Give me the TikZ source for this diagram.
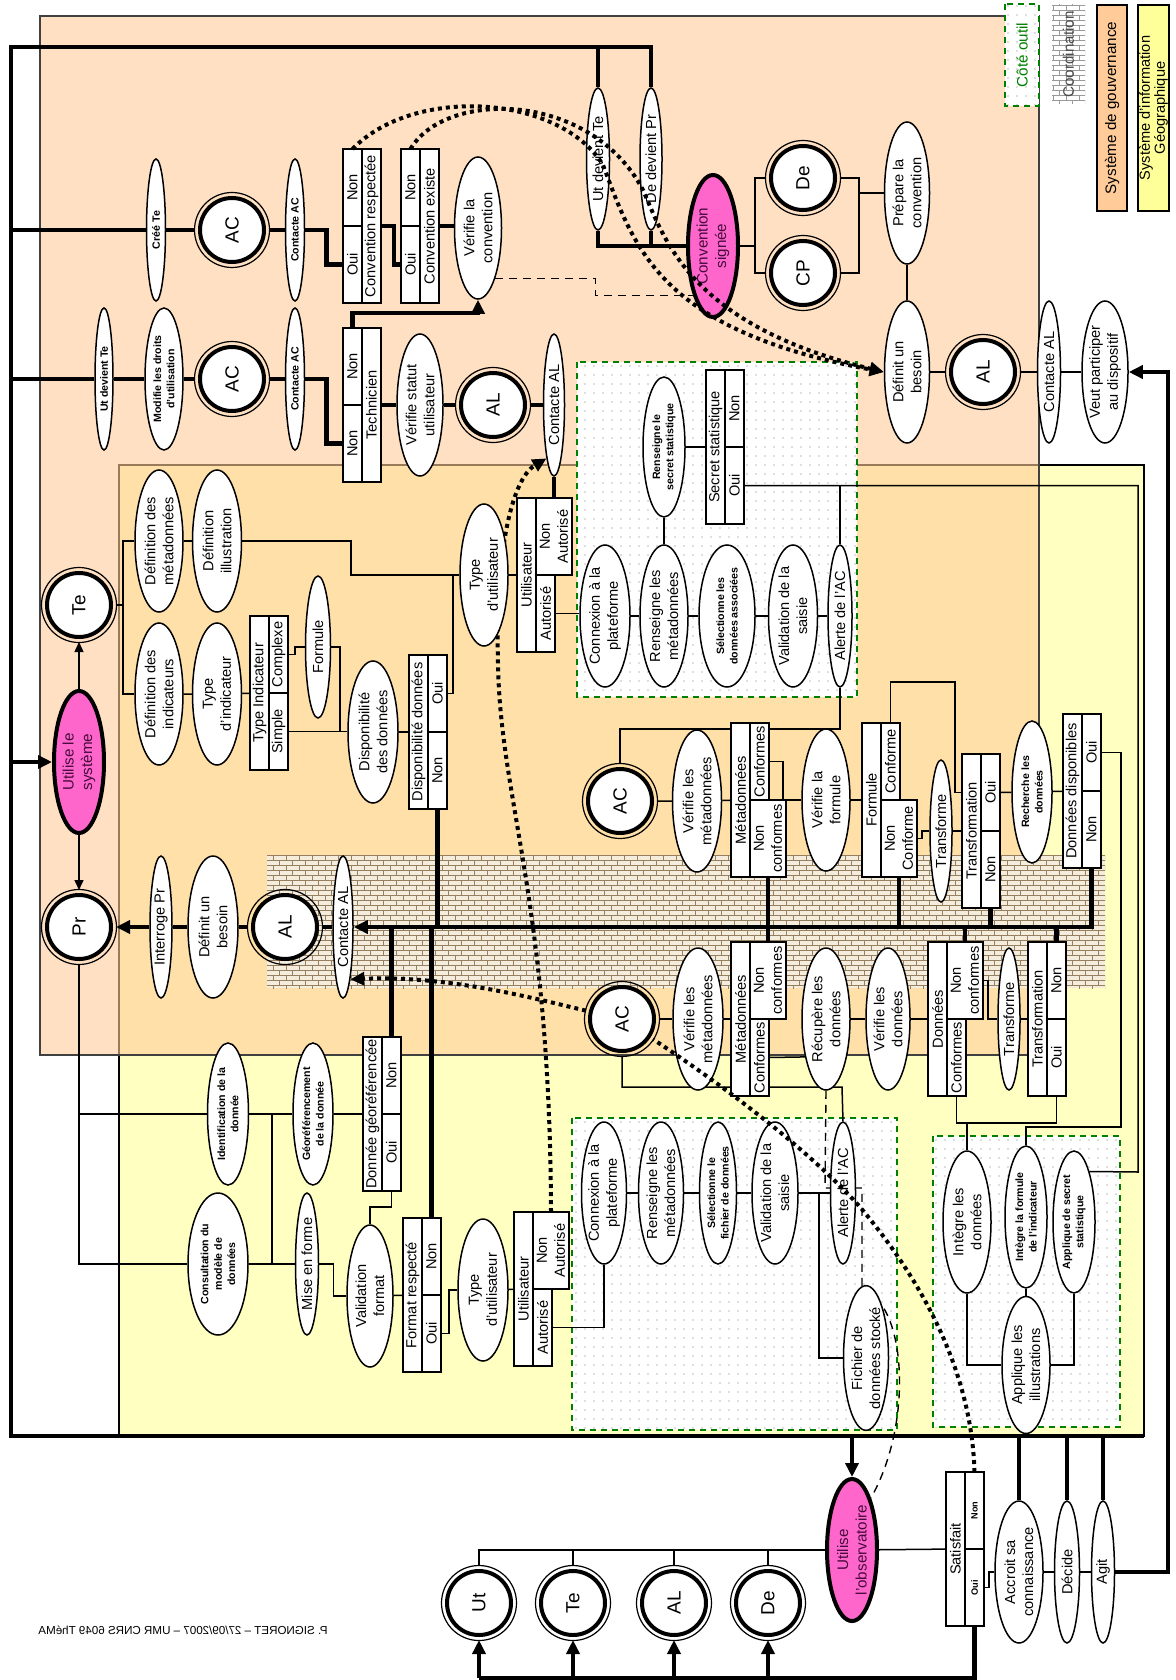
\documentclass[tikz,border=0pt]{standalone}
\usepackage{fontspec}
\setmainfont{Liberation Sans}
\usetikzlibrary{arrows.meta, shapes.geometric, patterns, patterns.meta}
\definecolor{sig}{RGB}{255,255,194}
\definecolor{gouvkey}{RGB}{255,204,153}
\definecolor{sigkey}{RGB}{255,255,153}
\definecolor{usepink}{RGB}{255,102,204}
\definecolor{usetext}{RGB}{70,10,60}
\definecolor{outil}{RGB}{0,128,0}
\definecolor{brickbg}{RGB}{244,236,220}
\definecolor{brickln}{RGB}{150,128,96}
\newcommand\fsA{\fontsize{7.3}{9}\selectfont}
\newcommand\fsB{\fontsize{5.3}{6.7}\selectfont\bfseries}
\newcommand\fsC{\fontsize{9.5}{11}\selectfont}
\newcommand\fsD{\fontsize{4.6}{5.5}\selectfont\bfseries}
\pgfdeclarelayer{regions}
\pgfdeclarelayer{edges}
\pgfdeclarelayer{over}
\pgfsetlayers{regions,edges,main,over}
\tikzdeclarepattern{
  name=smallbricks,
  type=uncolored,
  bottom left={(-0.2pt,-0.2pt)},
  top right={(6.7pt,5.2pt)},
  tile size={(6.5pt,5pt)},
  code={
    \draw[line width=0.45pt] (0pt,0pt) -- (6.5pt,0pt) (0pt,2.5pt) -- (6.5pt,2.5pt)
      (0pt,0pt) -- (0pt,2.5pt) (3.25pt,2.5pt) -- (3.25pt,5pt);
  }
}
\tikzset{
  % --- activities (ellipses, text running upwards) ---
  act/.style={ellipse, draw, fill=white, rotate=90, inner sep=0pt, line width=0.75pt,
    minimum width=71pt, minimum height=24pt, align=center, font=\fsA},
  acts/.style={act, font=\fsB},
  keyact/.style={act, fill=usepink, line width=2pt, text=usetext,
    font=\fontsize{7.6}{9.2}\selectfont, minimum width=71pt, minimum height=25pt},
  % --- actors (double ring) ---
  actor/.style={circle, draw, fill=white, rotate=90, line width=2pt, inner sep=0pt,
    minimum size=32pt, outer sep=2.5pt, font=\fsC,
    label={[circle, draw, fill=none, line width=0.6pt, minimum size=37.5pt,
      anchor=center]center:{}}},
  % --- decision tables ---
  cell/.style={rectangle, draw, fill=white, rotate=90, inner sep=0pt, outer sep=0pt,
    line width=0.9pt, minimum height=9.5pt, align=center, font=\fsA},
  hdr/.style={cell, minimum width=77pt},
  opt/.style={cell, minimum width=38.5pt},
  wide/.style={minimum height=18pt},
  % --- legend ---
  keybox/.style={rectangle, rotate=90, inner sep=0pt, align=center,
    font=\fontsize{7.6}{8}\selectfont},
  % --- connectors ---
  link/.style={line width=0.75pt},
  flow/.style={line width=2.4pt},
  arrowed/.style={-{Triangle[length=7pt, width=6.5pt]}},
  smallarrowed/.style={-{Triangle[length=5pt, width=4.5pt]}},
  dotline/.style={line width=2pt, dash pattern=on 2pt off 2pt},
  dotflow/.style={dotline, -{Triangle[length=7pt, width=6.5pt]}},
  dashlink/.style={line width=0.7pt, dash pattern=on 4pt off 3pt},
  % --- zones ---
  outilbox/.style={draw=outil, line width=1.2pt, dash pattern=on 3pt off 2.5pt,
    preaction={fill=white}, pattern={Dots[distance=4.5pt, radius=0.35pt]},
    pattern color=black!55},
  coordzone/.style={preaction={fill=brickbg}, pattern=smallbricks, pattern color=brickln},
}

\begin{document}
\begin{tikzpicture}[x=0.5pt, y=-0.5pt]
  \useasboundingbox (0,0) rectangle (1175,1680);
  % ---- Loop corners and bus levels ----
  \coordinate (loopTL) at (11,47);
  \coordinate (loopBL) at (11,1436);
  \coordinate (loopBR) at (1144,1436);
  \coordinate (loopR) at (1168,372);
  \coordinate (busY) at (0,927);
  \coordinate (botY) at (0,1678);

  % ---- Legend ----
  \node[keybox, outilbox, text=outil, minimum width=51pt, minimum height=17pt] (keyOutil) at (1022,55) {Côté outil};
  \node[keybox, preaction={fill=white}, pattern=smallbricks, pattern color=black!40, text=black!70,
    minimum width=49.5pt, minimum height=16.5pt] (keyCoord) at (1068.5,54.5) {Coordination};
  \node[keybox, draw, line width=1pt, fill=gouvkey, minimum width=103pt, minimum height=15pt] (keyGouv) at (1112,108) {Système de gouvernance};
  \node[keybox, draw, line width=1pt, fill=sigkey, minimum width=103pt, minimum height=15.5pt,
    font=\fontsize{7.3}{7.5}\selectfont] (keySig) at (1153.5,108) {Système d'information\\Géographique};

  % ---- Top band: conventions ----
  \node[acts, minimum height=9.5pt] (crTe) at (156,230) {Créé Te};
  \node[actor] (acA) at (232,230) {AC};
  \node[acts, minimum height=9.5pt] (ctAC1) at (295,230) {Contacte AC};
  \node[opt] (crNon) at (352.5,187.5) {Non};
  \node[opt] (crOui) at (352.5,264.5) {Oui};
  \node[hdr] (crHead) at (371.5,226) {Convention respectée};
  \node[opt] (ceNon) at (410.5,187.5) {Non};
  \node[opt] (ceOui) at (410.5,264.5) {Oui};
  \node[hdr] (ceHead) at (429.5,226) {Convention existe};
  \node[act, minimum height=23.5pt] (verConv) at (478,228) {Vérifie la\\convention};
  \node[act, minimum height=11.5pt] (utTe2) at (598,159) {Ut devient Te};
  \node[act, minimum height=11pt] (dePr) at (651,159) {De devient Pr};
  \node[keyact] (convSig) at (713,246) {Convention\\signée};
  \node[actor] (deA) at (803,178) {De};
  \node[actor] (cpA) at (803,273) {CP};
  \node[act, minimum height=22.5pt] (prepConv) at (907,193) {Prépare la\\convention};
  \node[act, minimum height=22.5pt] (defBes1) at (907,372) {Définit un\\besoin};
  \node[actor] (alA) at (983,372) {AL};
  \node[act, minimum height=11.5pt] (ctAL1) at (1049,372) {Contacte AL};
  \node[act, minimum height=23pt] (veut) at (1105,372) {Veut participer\\au dispositif};

  % ---- Top band: user rights ----
  \node[acts, minimum height=9pt] (utTe1) at (104,379) {Ut devient Te};
  \node[acts, minimum height=19pt] (modDr) at (164,379) {Modifie les droits\\d'utilisation};
  \node[actor] (acB) at (232,379) {AC};
  \node[acts, minimum height=9.5pt] (ctAC2) at (295,379) {Contacte AC};
  \node[opt] (teNon1) at (352.5,366.5) {Non};
  \node[opt] (teNon2) at (352.5,443.5) {Non};
  \node[hdr] (teHead) at (371.5,405) {Technicien};
  \node[act, minimum height=23pt] (verStat) at (420,405) {Vérifie statut\\utilisateur};
  \node[actor] (alB) at (493,405) {AL};
  \node[act, minimum height=10.5pt] (ctAL2) at (554,405) {Contacte AL};

  % ---- Tool side, upper box ----
  \node[acts, minimum width=70pt, minimum height=21pt] (rsSec) at (664,447) {Renseigne le\\secret statistique};
  \node[hdr] (ssHead) at (715.5,447) {Secret statistique};
  \node[opt] (ssNon) at (734.5,408.5) {Non};
  \node[opt] (ssOui) at (734.5,485.5) {Oui};
  \node[act, minimum height=25pt] (cnx1) at (605,616) {Connexion à la\\plateforme};
  \node[act] (rsMeta1) at (664,616) {Renseigne les\\métadonnées};
  \node[acts, minimum height=28pt] (selDon) at (727,616) {Sélectionne les\\données associées};
  \node[act, minimum height=24.5pt] (valSai1) at (793,616) {Validation de la\\saisie};
  \node[act, minimum height=12pt] (alert1) at (840,616) {Alerte de l'AC};

  % ---- Te: definitions ----
  \node[actor] (teA) at (79,605) {Te};
  \node[keyact] (useSys) at (79,762) {Utilise le\\système};
  \node[actor] (prA) at (79,927) {Pr};
  \node[act] (defMeta) at (159,541) {Définition des\\métadonnées};
  \node[act, minimum height=24.5pt] (defIll) at (217,541) {Définition\\illustration};
  \node[act] (defInd) at (159,694) {Définition des\\indicateurs};
  \node[act, minimum height=24.5pt] (typInd) at (217,694) {Type\\d'indicateur};
  \node[hdr] (tiHead) at (259.5,693) {Type Indicateur};
  \node[opt] (tiCpx) at (278.5,654.5) {Complexe};
  \node[opt] (tiSim) at (278.5,731.5) {Simple};
  \node[act, minimum height=12.5pt] (formu) at (318,647) {Formule};
  \node[act, minimum height=25pt] (dispo) at (373,732) {Disponibilité\\des données};
  \node[hdr] (ddHead) at (418.5,732) {Disponibilité données};
  \node[opt] (ddOui) at (437.5,693.5) {Oui};
  \node[opt] (ddNon) at (437.5,770.5) {Non};
  \node[act] (typUt1) at (484,575) {Type\\d'utilisateur};
  \node[hdr] (uaHead1) at (526.5,575) {Utilisateur};
  \node[opt, wide] (uaNon1) at (554,536.5) {Non\\Autorisé};
  \node[opt] (uaAut1) at (545.5,613.5) {Autorisé};

  % ---- Coordination row ----
  \node[act, minimum height=11pt] (intPr) at (161,927) {Interroge Pr};
  \node[act, minimum height=25pt] (defBes2) at (213,927) {Définit un\\besoin};
  \node[actor] (alC) at (285,927) {AL};
  \node[act, minimum height=10pt] (ctAL3) at (343,927) {Contacte AL};

  % ---- Metadata and formula checks ----
  \node[actor] (acC) at (620,801) {AC};
  \node[act, minimum height=24.5pt] (verMeta1) at (697,801) {Vérifie les\\métadonnées};
  \node[hdr] (mdHead1) at (740.5,800) {Métadonnées};
  \node[opt] (mdCnf1) at (759.5,761.5) {Conformes};
  \node[opt, wide] (mdNcf1) at (768,838.5) {Non\\conformes};
  \node[act] (verForm) at (826,800) {Vérifie la\\formule};
  \node[hdr] (fbHead) at (871.5,800) {Formule};
  \node[opt] (fbCnf) at (890.5,761.5) {Conforme};
  \node[opt, wide] (fbNcf) at (899,838.5) {Non\\Conforme};
  \node[act, minimum height=11pt] (transf1) at (941,831) {Transforme};
  \node[hdr] (trHead1) at (971.5,831) {Transformation};
  \node[opt] (trOui1) at (990.5,792.5) {Oui};
  \node[opt] (trNon1) at (990.5,869.5) {Non};
  \node[acts, minimum height=20pt] (rechDon) at (1032,792) {Recherche les\\données};
  \node[hdr] (dispHead) at (1072.5,791) {Données disponibles};
  \node[opt] (dispOui) at (1091.5,752.5) {Oui};
  \node[opt] (dispNon) at (1091.5,829.5) {Non};

  % ---- Data preparation (GIS) ----
  \node[acts, minimum height=20.5pt] (idDon) at (228,1114) {Identification de la\\donnée};
  \node[acts, minimum height=20pt] (geoDon) at (313,1114) {Géoréférencement\\de la donnée};
  \node[hdr] (dgHead) at (372.5,1114) {Donnée géoréférencée};
  \node[opt] (dgNon) at (391.5,1075.5) {Non};
  \node[opt] (dgOui) at (391.5,1152.5) {Oui};
  \node[acts, minimum height=30pt] (consMod) at (218,1264) {Consultation du\\modèle de\\données};
  \node[act, minimum height=11.5pt] (miseF) at (307,1264) {Mise en forme};
  \node[act, minimum height=23pt] (valFmt) at (370,1296) {Validation\\format};
  \node[hdr] (frHead) at (412.5,1295) {Format respecté};
  \node[opt] (frNon) at (431.5,1256.5) {Non};
  \node[opt] (frOui) at (431.5,1333.5) {Oui};
  \node[act, minimum height=25pt] (typUt2) at (483,1290) {Type\\d'utilisateur};
  \node[hdr] (uaHead2) at (523.5,1289) {Utilisateur};
  \node[opt, wide] (uaNon2) at (551,1250.5) {Non\\Autorisé};
  \node[opt] (uaAut2) at (542.5,1327.5) {Autorisé};

  % ---- Data checks ----
  \node[actor] (acD) at (622,1019) {AC};
  \node[act, minimum height=25pt] (verMeta2) at (698,1019) {Vérifie les\\métadonnées};
  \node[hdr] (mdHead2) at (740.5,1019) {Métadonnées};
  \node[opt, wide] (mdNcf2) at (768,980.5) {Non\\conformes};
  \node[opt] (mdCnf2) at (759.5,1057.5) {Conformes};
  \node[act] (recDon) at (826,1019) {Récupère les\\données};
  \node[act, minimum height=22pt] (verDon) at (888,1019) {Vérifie les\\données};
  \node[hdr] (dnHead) at (937.5,1019) {Données};
  \node[opt, wide] (dnNcf) at (965,980.5) {Non\\conformes};
  \node[opt] (dnCnf) at (956.5,1057.5) {Conformes};
  \node[act, minimum height=11pt] (transf2) at (1009,1019) {Transforme};
  \node[hdr] (trHead2) at (1037.5,1019) {Transformation};
  \node[opt] (trNon2) at (1056.5,980.5) {Non};
  \node[opt] (trOui2) at (1056.5,1057.5) {Oui};

  % ---- Tool side, lower boxes ----
  \node[act, minimum height=22.5pt] (cnx2) at (604,1193) {Connexion à la\\plateforme};
  \node[act, minimum height=22.5pt] (rsMeta2) at (661,1193) {Renseigne les\\métadonnées};
  \node[acts, minimum height=18.5pt] (selFic) at (718,1193) {Sélectionne le\\fichier de données};
  \node[act, minimum height=23pt] (valSai2) at (775,1193) {Validation de la\\saisie};
  \node[act, minimum height=12.5pt] (alert2) at (843,1193) {Alerte de l'AC};
  \node[act, minimum height=22.5pt] (fichSt) at (866,1358) {Fichier de\\données stocké};
  \node[act] (intDon) at (967,1222) {Intègre les\\données};
  \node[acts, minimum height=21pt] (intForm) at (1026,1217) {Intègre la formule\\de l'indicateur};
  \node[acts, minimum height=21pt] (appSec) at (1074,1222) {Applique de secret\\statistique};
  \node[act, minimum width=68.5pt] (appIll) at (1026,1365) {Applique les\\illustrations};

  % ---- Use of the observatory ----
  \node[keyact] (useObs) at (852,1550) {Utilise\\l'observatoire};
  \node[hdr] (saHead) at (955.5,1549) {Satisfait};
  \node[opt, font=\fsD] (saNon) at (974.5,1510.5) {Non};
  \node[opt, font=\fsD] (saOui) at (974.5,1587.5) {Oui};
  \node[act] (accr) at (1019,1572) {Accroit sa\\connaissance};
  \node[act, minimum height=12.5pt] (decide) at (1067,1572) {Décide};
  \node[act, minimum height=11.5pt] (agit) at (1103,1572) {Agit};
  \node[actor] (utA) at (479,1603) {Ut};
  \node[actor] (teB) at (573,1603) {Te};
  \node[actor] (alD) at (674,1603) {AL};
  \node[actor] (deB) at (768,1603) {De};

  \node[font=\fontsize{5.8}{7}\selectfont, xscale=-1] (credit) at (183,1630) {P. SIGNORET – 27/09/2007 – UMR CNRS 6049 ThéMA};

  % ---- Zones ----
  \begin{pgfonlayer}{regions}
    \fill[sig] (119,465) rectangle (1144,1436);
    \draw[line width=1.2pt] (119,465) rectangle (1144,1436);
    \fill[gouvkey, fill opacity=0.6] (40,16) rectangle (1039,1055);
    \draw[line width=0.7pt, black!75] (40,16) rectangle (1039,1055);
    \path[coordzone] (267,855) rectangle (1105,988);
    \path[outilbox] (577,362) rectangle (857,697);
    \path[outilbox] (572,1118) rectangle (897,1430);
    \path[outilbox] (933,1136) rectangle (1120,1427);
  \end{pgfonlayer}

  \begin{pgfonlayer}{edges}
    % ---- Big loop ----
    \draw[flow] (dePr.east) |- (loopTL) -- (loopBL) -- (loopBR);
    \draw[flow] (utTe2.east) -- (utTe2.east |- loopTL);
    \draw[flow, arrowed] (agit.south) -| (loopR) -- (veut.south);
    \draw[flow] (loopTL |- crTe) -- (crTe) -- (acA) -- (ctAC1);
    \draw[flow] (loopTL |- acB) -- (utTe1) -- (modDr) -- (acB) -- (ctAC2);
    \draw[flow, arrowed] (loopTL |- useSys) -- (useSys);
    % ---- Conventions ----
    \draw[flow] (ctAC1.south) -- ++(21,0) |- (crOui.north);
    \draw[flow] (crHead.south) -- ++(13,0) |- (ceOui.north);
    \draw[flow] (ceHead.south) -- (ceHead.south -| verConv.north);
    \draw[flow] (ctAC2.south) -- ++(21,0) |- (teNon2.north);
    \draw[flow, arrowed] (teNon1.east) -- ++(0,-15) -| (verConv.west);
    \draw[flow] (teHead) -- (verStat) -- (alB) -- (ctAL2);
    \draw[flow] (ctAL2) -- (uaNon1);
    \draw[flow] (utTe2.west) |- (convSig.north);
    \draw[flow] (dePr.west) -- (dePr.west |- convSig.north);
    \draw[dashlink] (verConv.-161) -- ++(100,0) |- (convSig.158);
    \draw[link] (convSig.south) -- ++(15,0) coordinate (sigFork);
    \draw[link] (deA) -| (sigFork) |- (cpA);
    \coordinate (prepFork) at (859,193);
    \draw[link] (deA) -| (prepFork) |- (cpA);
    \draw[link] (prepFork) -- (prepConv);
    \draw[link] (prepConv) -- (defBes1) -- (alA) -- (ctAL1) -- (veut);
    % ---- Te side ----
    \draw[link, smallarrowed] (useSys) -- (teA);
    \draw[link, smallarrowed] (useSys) -- (prA);
    \draw[link] (teA.south) -- ++(7,0) coordinate (teFork);
    \draw[link] (defMeta) -| (teFork) |- (defInd);
    \draw[link] (defMeta) -- (defIll);
    \draw[link] (defIll.south) -- (351,541) |- (typUt1.north);
    \draw[link] (defInd) -- (typInd) -- (tiHead);
    \draw[link] (tiCpx.south) -- ++(7,0) |- (formu.north);
    \draw[link] (formu.south) -| (340,731.5);
    \draw[link] (tiSim.south) -- (tiSim.south -| dispo.north);
    \draw[link] (dispo) -- (ddHead);
    \draw[link] (ddOui.south) -| (453,575);
    \draw[link] (typUt1) -- (uaHead1);
    \draw[link] (uaAut1.south) -- (uaAut1.south -| cnx1.north);
    % ---- Tool side, upper ----
    \draw[link] (cnx1) -- (rsMeta1) -- (selDon) -- (valSai1) -- (alert1);
    \draw[link] (rsMeta1) -- (rsSec);
    \draw[link] (rsSec) -- (ssHead);
    \draw[link] (ssOui.south) -| (1138,1172) -- (appSec.-17);
    \draw[link] (alert1.east) -- (alert1.east |- ssOui.south);
    \draw[link] (alert1.west) -- ++(0,41) -| (acC.east);
    % ---- Metadata and formula checks ----
    \draw[link] (acC) -- (verMeta1) -- (mdHead1);
    \draw[link] (mdCnf1.south) -- ++(14,0) |- (verForm.north);
    \draw[link] (verForm) -- (fbHead);
    \draw[link] (fbCnf.east) -- ++(0,-41) -| (955,792.5) -- (trHead1.north |- trOui1);
    \draw[link] (fbNcf.south) -- ++(5,0) |- (transf1.north);
    \draw[link] (transf1) -- (trHead1);
    \draw[link] (trOui1) -- (rechDon);
    \draw[link] (rechDon) -- (dispHead);
    \draw[link] (dispOui.south) -| (1121,1127) -| (intForm.east);
    % ---- Coordination bus ----
    \draw[flow, arrowed] (dispNon.west) |- (ctAL3.south);
    \foreach \n in {ddNon,fbNcf,trNon1} \draw[flow] (\n.west) -- (\n.west |- busY);
    \foreach \n in {dgNon,frNon,dnNcf,trNon2} \draw[flow] (\n.east) -- (\n.east |- busY);
    \draw[flow] (mdNcf1.west) -- (mdNcf2.east);
    \draw[flow, arrowed] (ctAL3) -- (alC) -- (defBes2) -- (intPr) -- (prA);
    \draw[dotflow] (uaNon2.east) .. controls (550,900) and (500,800) .. (498,663)
      .. controls (495,560) and (510,480) .. (ctAL2.172);
    % ---- Data preparation ----
    \draw[link] (prA.west) |- (consMod.north);
    \draw[link] (prA.west |- idDon) -- (idDon) -- (geoDon) -- (dgHead);
    \draw[link] (272,1114) -- (272,1264);
    \draw[link] (consMod) -- (miseF);
    \draw[link] (miseF.south) -- ++(14,0) |- (valFmt.north);
    \draw[link] (dgOui.west) -- ++(0,16) -| (valFmt.east);
    \draw[link] (valFmt) -- (frHead);
    \draw[link] (frOui.south) -- ++(8,0) |- (typUt2.north);
    \draw[link] (typUt2) -- (uaHead2);
    \draw[link] (uaAut2.south) -| (cnx2.west);
    % ---- Tool side, lower ----
    \draw[link] (cnx2) -- (rsMeta2) -- (selFic) -- (valSai2) -- (alert2);
    \draw[link] (819,1193) |- (fichSt.north);
    % ---- Data checks ----
    \draw[link] (acD) -- (verMeta2) -- (mdHead2);
    \draw[link] (acD.west) |- (842,1087) -- (alert2.east);
    \draw[link] (mdCnf2.south) -- (recDon.151);
    \draw[link] (recDon) -- (verDon) -- (dnHead);
    \draw[link] (dnNcf.south) -- ++(5,0) |- (transf2.north);
    \draw[link] (transf2) -- (trHead2);
    \draw[link] (dnCnf.west) -- ++(0,27) -| (trOui2.west);
    \draw[link] (967,1123) -- (intDon.east);
    \draw[link] (intDon.west) |- (appIll.north);
    \draw[link] (appSec.west) |- (appIll.south);
    \draw[link] (intForm) -- (appIll);
    \draw[dashlink] (recDon.west) -- (825,1188) -- (862,1188) -- (862,1290)
      .. controls (905,1300) and (915,1420) .. (useObs.-20);
    % ---- Use of the observatory ----
    \draw[flow, arrowed] (useObs.east |- loopBR) -- (useObs.east);
    \foreach \n in {accr,decide,agit} \draw[flow] (\n.east |- loopBR) -- (\n.east);
    \draw[link] (useObs) -- (saHead);
    \draw[link] (useObs.north) -| (utA.east);
    \foreach \n in {teB,alD,deB} \draw[link] (\n.east) -- (\n.east |- useObs.north);
    \draw[link] (saOui.south) -- ++(5,0) |- (accr.north);
    \draw[link] (accr) -- (decide) -- (agit);
    \draw[flow] (saOui.west) |- (utA.west |- botY);
    \foreach \n in {utA,teB,alD,deB} \draw[flow, arrowed] (\n.west |- botY) -- (\n.west);
  \end{pgfonlayer}

  \begin{pgfonlayer}{over}
    % ---- Dotted flows ----
    \draw[dotflow] (crNon.east) .. controls (415,85) and (560,95) .. (603,165)
      .. controls (635,250) and (660,330) .. (defBes1.north);
    \draw[dotflow] (ceNon.east) .. controls (445,90) and (590,90) .. (643,190)
      .. controls (665,240) and (690,325) .. (defBes1.north);
    \draw[dotline] (saNon.east) .. controls (972,1380) and (930,1290) .. (860,1207)
      .. controls (800,1140) and (700,1070) .. (acD);
    \draw[dotflow] (acD) .. controls (540,1000) and (450,975) .. (ctAL3.-172);
  \end{pgfonlayer}
\end{tikzpicture}
\end{document}
